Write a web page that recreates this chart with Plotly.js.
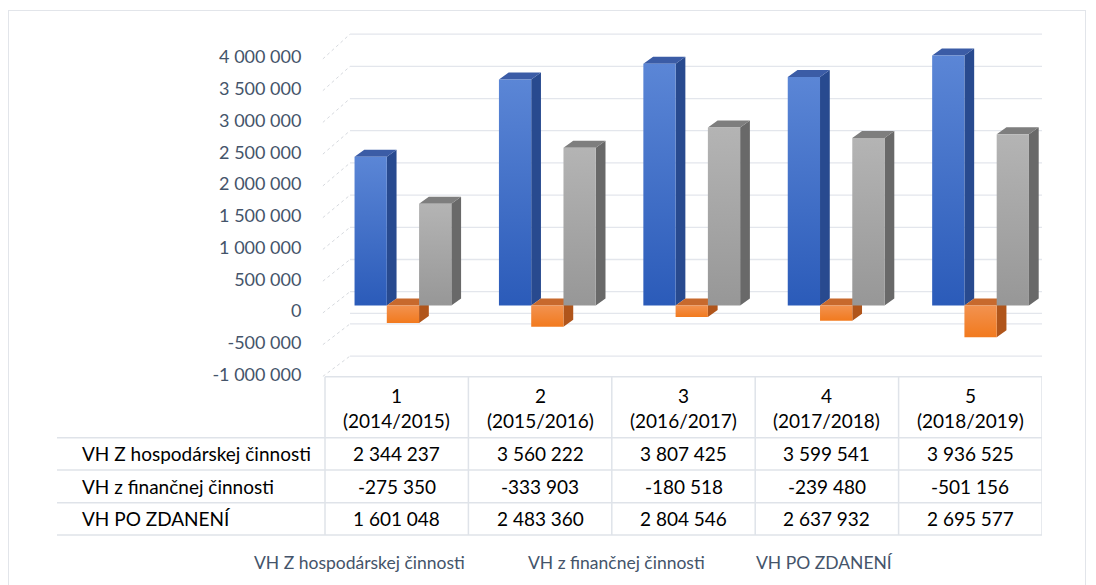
<!DOCTYPE html>
<html>
<head>
<meta charset="utf-8">
<script src="https://cdn.plot.ly/plotly-3.0.1.min.js"></script>
<style>
  html, body { margin: 0; padding: 0; background: #ffffff; }
  #frame { position: absolute; left: 8px; top: 10px; width: 1078px; height: 600px; border: 1px solid #e2e5ea; box-sizing: border-box; }
  #chart { position: absolute; left: 0; top: 0; width: 1096px; height: 585px; }
</style>
</head>
<body>
<div id="frame"></div>
<div id="chart"></div>
<script>
// ---------- data ----------
const catNumbers = ['1', '2', '3', '4', '5'];
const catYears = ['(2014/2015)', '(2015/2016)', '(2016/2017)', '(2017/2018)', '(2018/2019)'];
const seriesNames = ['VH Z hospodárskej činnosti', 'VH z finančnej činnosti', 'VH PO ZDANENÍ'];
const hospodarska = [2344237, 3560222, 3807425, 3599541, 3936525];
const financna = [-275350, -333903, -180518, -239480, -501156];
const poZdaneni = [1601048, 2483360, 2804546, 2637932, 2695577];
const yTickValues = [-1000000, -500000, 0, 500000, 1000000, 1500000, 2000000, 2500000, 3000000, 3500000, 4000000];

// ---------- styling / projection constants ----------
const FONT = 'Lato, "Open Sans", sans-serif';
const AXIS_COLOR = '#44546a';
const GRID_COLOR = '#e3e6ec';
const TABLE_LINE = '#dfe3e9';
const BAR_OFF = [-0.28, -0.055, 0.17];   // left edge of front face relative to category centre
const BAR_W = 0.225;
const PERSP = 0.007;                     // small sideways perspective drift per category
const BAR_DX = 0.068;                    // depth offset (x units)
const BAR_DY = 110000;                   // depth offset (y units)
const Z0 = 86600;                        // front faces sit slightly behind the floor front edge
const WALL_X0 = -0.3256;
const WALL_DY = 304000, WALL_K = 1.014;
const FLOOR_LINE_Y = -36000;
const X_RANGE = [-0.5209, 4.5];
const Y_RANGE = [-1039400, 4425200];

const FRONT_SCALE = [
  [[0, '#2b5bb9'], [1, '#5b86d6']],
  [[0, '#f27a1e'], [1, '#f29250']],
  [[0, '#979797'], [1, '#b4b4b4']]
];
const SIDE_COLOR = ['#284a8f', '#b0551b', '#696969'];
const TOP_COLOR = ['#3b5ca6', '#c7692d', '#7e7e7e'];

const seriesValues = [hospodarska, financna, poZdaneni];

function fmt(v) {
  const s = Math.abs(Math.round(v)).toString().replace(/\B(?=(\d{3})+(?!\d))/g, ' ');
  return (v < 0 ? '-' : '') + s;
}

const traces = [];

// back-wall gridlines + left-wall diagonals
const gx = [], gy = [], dx = [], dy = [];
yTickValues.forEach(v => {
  const yb = v * WALL_K + WALL_DY;
  gx.push(WALL_X0, X_RANGE[1], null); gy.push(yb, yb, null);
  dx.push(X_RANGE[0] + 0.006, WALL_X0, null); dy.push(v - 30000, yb, null);
});
gx.push(WALL_X0, X_RANGE[1], null); gy.push(FLOOR_LINE_Y, FLOOR_LINE_Y, null);
traces.push({ type: 'scatter', mode: 'lines', x: gx, y: gy, line: { color: GRID_COLOR, width: 1.3 }, hoverinfo: 'skip', showlegend: false });
traces.push({ type: 'scatter', mode: 'lines', x: dx, y: dy, line: { color: '#d6d9de', width: 1, dash: 'dot' }, hoverinfo: 'skip', showlegend: false });

// 3D-looking bars
seriesValues.forEach((vals, s) => {
  const sx = [], sy = [], tx = [], ty = [];
  const fronts = [];
  vals.forEach((v, i) => {
    const x0 = i + BAR_OFF[s] + PERSP * (i - 2);
    const x1 = x0 + BAR_W;
    const yb = Z0, yt = Z0 + v;
    const top = Math.max(yb, yt), bot = Math.min(yb, yt);
    // side face (right)
    sx.push(x1, x1 + BAR_DX, x1 + BAR_DX, x1, x1, null);
    sy.push(bot, bot + BAR_DY, top + BAR_DY, top, bot, null);
    // top face
    tx.push(x0, x1, x1 + BAR_DX, x0 + BAR_DX, x0, null);
    ty.push(top, top, top + BAR_DY, top + BAR_DY, top, null);
    fronts.push({ type: 'scatter', mode: 'lines', x: [x0, x1, x1, x0, x0], y: [bot, bot, top, top, bot],
      fill: 'toself', line: { width: 0, color: 'rgba(0,0,0,0)' },
      fillgradient: { type: 'vertical', colorscale: FRONT_SCALE[s] },
      hoverinfo: 'skip', showlegend: false, name: seriesNames[s] });
  });
  traces.push({ type: 'scatter', mode: 'lines', x: sx, y: sy, fill: 'toself', fillcolor: SIDE_COLOR[s], line: { width: 0, color: 'rgba(0,0,0,0)' }, hoverinfo: 'skip', showlegend: false });
  traces.push({ type: 'scatter', mode: 'lines', x: tx, y: ty, fill: 'toself', fillcolor: TOP_COLOR[s], line: { width: 0, color: 'rgba(0,0,0,0)' }, hoverinfo: 'skip', showlegend: false });
  fronts.forEach(t => traces.push(t));
});

// ---------- data table (annotations + shapes) ----------
const PLOT_L = 322, PLOT_R = 1042, PLOT_T = 30, PLOT_B = 377;
const py = p => (PLOT_B - p) / (PLOT_B - PLOT_T);
const pxp = p => (p - PLOT_L) / (PLOT_R - PLOT_L);

const annotations = [];
const shapes = [];
const rowCenters = [453.9, 486.3, 518.9];
const rowLines = [437.7, 470, 502.7, 535];

catNumbers.forEach((c, i) => {
  annotations.push({ xref: 'x', yref: 'paper', x: i, y: py(408), text: c + '<br>' + catYears[i],
    showarrow: false, xanchor: 'center', yanchor: 'middle', align: 'center',
    font: { family: FONT, size: 19, color: '#000000' } });
});
seriesValues.forEach((vals, s) => {
  annotations.push({ xref: 'paper', yref: 'paper', x: pxp(80), y: py(rowCenters[s]), text: seriesNames[s],
    showarrow: false, xanchor: 'left', yanchor: 'middle', font: { family: FONT, size: 19, color: '#000000' } });
  vals.forEach((v, i) => {
    annotations.push({ xref: 'x', yref: 'paper', x: i, y: py(rowCenters[s]), text: fmt(v),
      showarrow: false, xanchor: 'center', yanchor: 'middle', font: { family: FONT, size: 19, color: '#000000' } });
  });
});
// legend (text only, as in the reference)
const legendCenters = [359, 616, 824];
seriesNames.forEach((n, s) => {
  annotations.push({ xref: 'paper', yref: 'paper', x: pxp(legendCenters[s]), y: py(562), text: n,
    showarrow: false, xanchor: 'center', yanchor: 'middle', font: { family: FONT, size: 17.5, color: AXIS_COLOR } });
});

// table lines
shapes.push({ type: 'line', xref: 'x', yref: 'paper', x0: -0.5, x1: 4.5, y0: py(376.7), y1: py(376.7), line: { color: TABLE_LINE, width: 1.5 } });
rowLines.forEach(r => {
  shapes.push({ type: 'line', xref: 'paper', yref: 'paper', x0: pxp(57), x1: 1, y0: py(r), y1: py(r), line: { color: TABLE_LINE, width: 1.5 } });
});
for (let k = 0; k <= catNumbers.length; k++) {
  shapes.push({ type: 'line', xref: 'x', yref: 'paper', x0: k - 0.5, x1: k - 0.5, y0: py(376.7), y1: py(535), line: { color: TABLE_LINE, width: 1.5 } });
}

const layout = {
  width: 1096, height: 585,
  margin: { l: PLOT_L, r: 1096 - PLOT_R, t: PLOT_T, b: 585 - PLOT_B, pad: 0 },
  paper_bgcolor: 'rgba(0,0,0,0)', plot_bgcolor: 'rgba(0,0,0,0)',
  showlegend: false,
  xaxis: { range: X_RANGE, showgrid: false, zeroline: false, showticklabels: false, ticks: '', fixedrange: true },
  yaxis: { range: Y_RANGE, showgrid: false, zeroline: false, tickvals: yTickValues, ticktext: yTickValues.map(fmt),
    ticks: 'outside', ticklen: 16, tickcolor: 'rgba(0,0,0,0)', tickfont: { family: FONT, size: 18, color: AXIS_COLOR }, fixedrange: true },
  annotations: annotations,
  shapes: shapes,
  font: { family: FONT }
};

Plotly.newPlot('chart', traces, layout, { displayModeBar: false, staticPlot: true });
</script>
</body>
</html>
